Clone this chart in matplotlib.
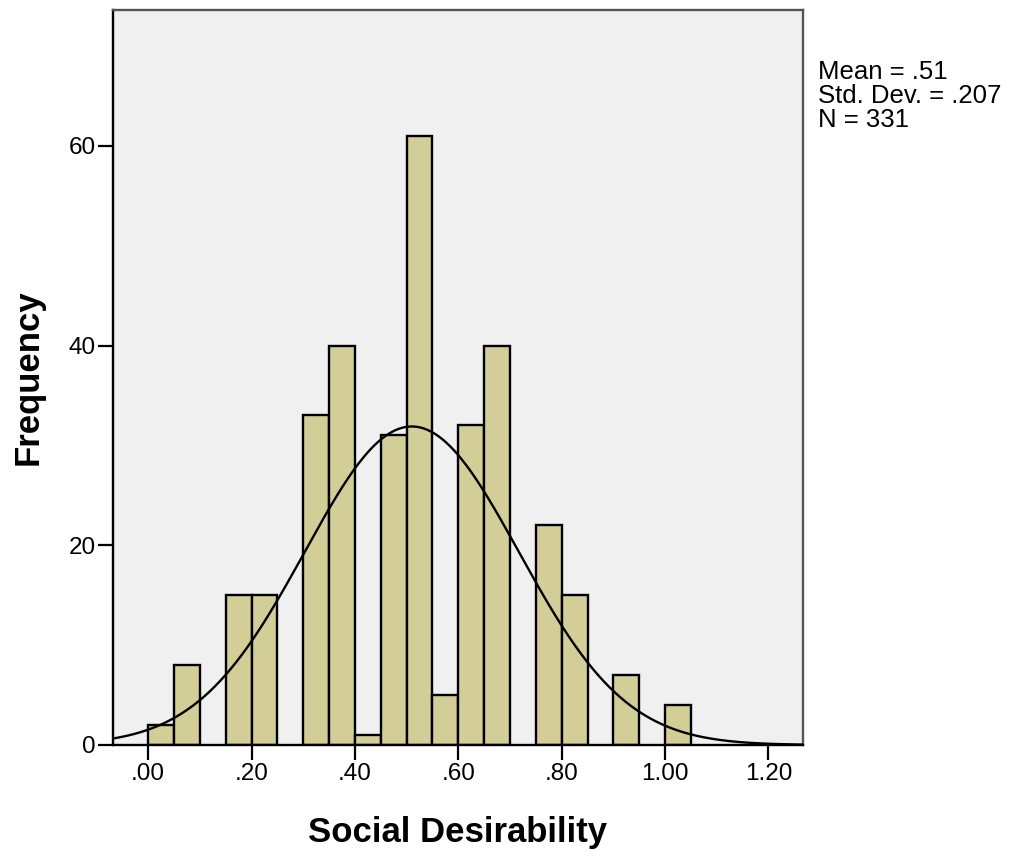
import numpy as np
import matplotlib.pyplot as plt

# histogram bins (lower edges) and counts
bin_left = [0.00, 0.05, 0.15, 0.20, 0.30, 0.35, 0.40, 0.45, 0.50, 0.55, 0.60, 0.65, 0.75, 0.80, 0.90, 1.00]
counts = [2, 8, 15, 15, 33, 40, 1, 31, 61, 5, 32, 40, 22, 15, 7, 4]
bin_width = 0.05

mean = 0.51
std_dev = 0.207
n = 331

x_ticks = [0.0, 0.2, 0.4, 0.6, 0.8, 1.0, 1.2]
x_tick_labels = ['.00', '.20', '.40', '.60', '.80', '1.00', '1.20']
y_ticks = [0, 20, 40, 60]

plt.rcParams['font.family'] = ['Liberation Sans', 'DejaVu Sans']

fig = plt.figure(figsize=(10.1, 8.56), dpi=100)
ax = fig.add_axes([0.1119, 0.1297, 0.6832, 0.8586])
ax.set_facecolor('#f0f0f0')

ax.bar(bin_left, counts, width=bin_width, align='edge', color='#d3ce97',
       edgecolor='black', linewidth=1.7, zorder=2)

# fitted normal curve
xlim = (-0.068, 1.267)
xs = np.linspace(xlim[0], xlim[1], 400)
ys = n * bin_width * np.exp(-0.5 * ((xs - mean) / std_dev) ** 2) / (std_dev * np.sqrt(2 * np.pi))
ax.plot(xs, ys, color='black', linewidth=1.7, zorder=3)

ax.set_xlim(*xlim)
ax.set_ylim(0, 73.6)
ax.set_xticks(x_ticks)
ax.set_xticklabels(x_tick_labels)
ax.set_yticks(y_ticks)
ax.tick_params(axis='both', direction='out', length=11, width=1.6, labelsize=17.5)
ax.tick_params(axis='x', pad=2)
ax.tick_params(axis='y', pad=1.5)

for side in ['left', 'bottom']:
    ax.spines[side].set_color('black')
    ax.spines[side].set_linewidth(1.7)
for side in ['top', 'right']:
    ax.spines[side].set_color('#555555')
    ax.spines[side].set_linewidth(1.7)

ax.set_xlabel('Social Desirability', fontsize=25, fontweight='bold')
ax.set_ylabel('Frequency', fontsize=25, fontweight='bold')
ax.xaxis.set_label_coords(0.5, -0.097)
ax.yaxis.set_label_coords(-0.099, 0.5)

fig.text(0.81, 0.93, 'Mean = .51\nStd. Dev. = .207\nN = 331', fontsize=18.5,
         va='top', ha='left', linespacing=1.0)

fig.savefig('out.png', dpi=100)
